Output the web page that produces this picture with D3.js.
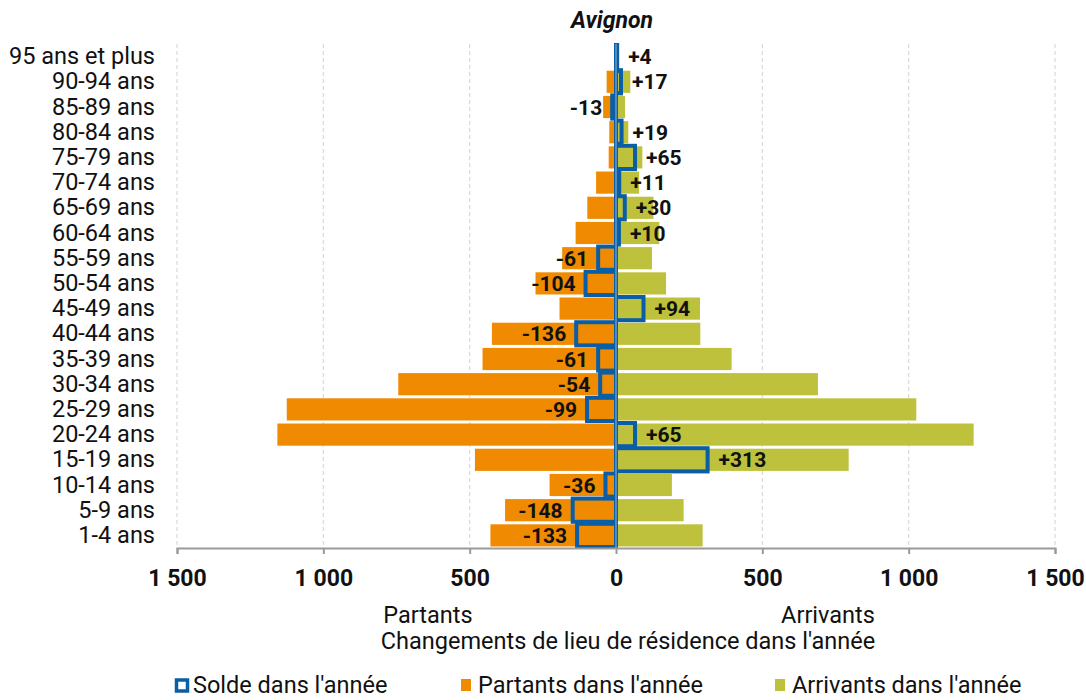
<!DOCTYPE html>
<html>
<head>
<meta charset="utf-8">
<script src="https://cdn.jsdelivr.net/npm/d3@7"></script>
<style>
  body { margin: 0; background: #fff; }
  svg text { font-family: Roboto, "Noto Sans", sans-serif; }
</style>
</head>
<body>
<div class="chart"></div>
<script>
// categories, from the youngest to the oldest
const ages = ['1-4 ans', '5-9 ans', '10-14 ans', '15-19 ans', '20-24 ans', '25-29 ans',
  '30-34 ans', '35-39 ans', '40-44 ans', '45-49 ans', '50-54 ans', '55-59 ans',
  '60-64 ans', '65-69 ans', '70-74 ans', '75-79 ans', '80-84 ans', '85-89 ans',
  '90-94 ans', '95 ans et plus'];
const partants = [429, 379, 227, 482, 1157, 1125, 744, 456, 424, 193, 275, 184,
  138, 98, 68, 25, 23, 44, 32, 5];
const arrivants = [296, 231, 191, 795, 1222, 1026, 690, 395, 288, 287, 171, 123,
  148, 128, 79, 90, 42, 31, 49, 9];
const solde = [-133, -148, -36, 313, 65, -99, -54, -61, -136, 94, -104, -61,
  10, 30, 11, 65, 19, -13, 17, 4];
const ticks = [-1500, -1000, -500, 0, 500, 1000, 1500];
const legendItems = ["Solde dans l'année", "Partants dans l'année", "Arrivants dans l'année"];

const W = 1086, H = 700;
const orange = '#f08a00', olive = '#bdc13b', blue = '#0a5ea6';

const svg = d3.select('.chart')
  .append('svg')
    .attr('width', W)
    .attr('height', H);

const x = d3.scaleLinear().domain([-1500, 1500]).range([177, 1055]);
const y = d3.scaleBand()
  .domain(ages.slice().reverse())
  .range([44, 548])
  .paddingInner(0.12)
  .paddingOuter(0.06);

const rows = ages.map((a, i) => ({ age: a, p: partants[i], a2: arrivants[i], s: solde[i] }));

// grid
svg.append('g')
  .selectAll('line')
  .data(ticks.filter(t => t !== 0))
  .enter()
  .append('line')
    .attr('x1', d => x(d)).attr('x2', d => x(d))
    .attr('y1', 44).attr('y2', 548)
    .attr('stroke', '#d9d9d9')
    .attr('stroke-width', 1.2)
    .attr('stroke-dasharray', '4,3');

// partants
svg.append('g')
  .selectAll('rect')
  .data(rows)
  .enter()
  .append('rect')
    .attr('x', d => x(-d.p))
    .attr('y', d => y(d.age))
    .attr('width', d => x(0) - x(-d.p))
    .attr('height', y.bandwidth())
    .attr('fill', orange);

// arrivants
svg.append('g')
  .selectAll('rect')
  .data(rows)
  .enter()
  .append('rect')
    .attr('x', x(0))
    .attr('y', d => y(d.age))
    .attr('width', d => x(d.a2) - x(0))
    .attr('height', y.bandwidth())
    .attr('fill', olive);

// solde
const step = y.step();
svg.append('g')
  .selectAll('rect')
  .data(rows)
  .enter()
  .append('rect')
    .attr('x', d => x(Math.min(0, d.s)))
    .attr('y', d => y(d.age) + y.bandwidth() / 2 - (step - 2) / 2)
    .attr('width', d => Math.abs(x(d.s) - x(0)))
    .attr('height', step - 2)
    .attr('fill', 'none')
    .attr('stroke', blue)
    .attr('stroke-width', 4);

// thin zero line
svg.append('line')
  .attr('x1', x(0)).attr('x2', x(0))
  .attr('y1', 44).attr('y2', 548)
  .attr('stroke', '#9fb6cc')
  .attr('stroke-width', 1);

// labels of solde
svg.append('g')
  .selectAll('text')
  .data(rows)
  .enter()
  .append('text')
    .attr('x', d => d.s >= 0 ? x(d.s) + 11 : x(d.s) - 10)
    .attr('y', d => y(d.age) + y.bandwidth() / 2)
    .attr('dy', '0.36em')
    .attr('text-anchor', d => d.s >= 0 ? 'start' : 'end')
    .style('font-size', '21px')
    .style('font-weight', 'bold')
    .attr('fill', '#111')
    .text(d => (d.s > 0 ? '+' : '') + d.s);

// bottom axis
const fr = d3.formatLocale({ decimal: ',', thousands: '\u00a0', grouping: [3], currency: ['', ' €'] });
const fmt = fr.format(',d');
const xAxis = svg.append('g')
  .attr('transform', 'translate(0,548)')
  .call(d3.axisBottom(x).tickValues(ticks).tickSize(6).tickPadding(16)
    .tickFormat(d => fmt(Math.abs(d))));
xAxis.select('.domain').attr('stroke', '#9a9a9a').attr('stroke-width', 2);
xAxis.selectAll('.tick line').attr('stroke', '#9a9a9a').attr('stroke-width', 2);
xAxis.selectAll('text')
  .style('font-size', '23px')
  .style('font-weight', 'bold')
  .attr('fill', '#111');

// left axis
const yAxis = svg.append('g')
  .attr('transform', 'translate(163,0)')
  .call(d3.axisLeft(y).tickSize(0).tickPadding(8));
yAxis.select('.domain').remove();
yAxis.selectAll('text')
  .style('font-size', '23.5px')
  .attr('fill', '#111');

// title
svg.append('text')
  .attr('x', x(0) - 4).attr('y', 28)
  .attr('text-anchor', 'middle')
  .style('font-size', '23px')
  .style('font-weight', 'bold')
  .style('font-style', 'italic')
  .attr('fill', '#111')
  .text('Avignon');

// axis titles
svg.append('text')
  .attr('x', 428).attr('y', 623)
  .attr('text-anchor', 'middle')
  .style('font-size', '23.5px')
  .attr('fill', '#111')
  .text('Partants');
svg.append('text')
  .attr('x', 828).attr('y', 623)
  .attr('text-anchor', 'middle')
  .style('font-size', '23.5px')
  .attr('fill', '#111')
  .text('Arrivants');
svg.append('text')
  .attr('x', 628).attr('y', 649)
  .attr('text-anchor', 'middle')
  .style('font-size', '23.5px')
  .attr('fill', '#111')
  .text("Changements de lieu de résidence dans l'année");

// legend
const legendX = [175, 461, 775];
const legend = svg.append('g')
  .selectAll('g')
  .data(legendItems)
  .enter()
  .append('g')
    .attr('transform', (d, i) => `translate(${legendX[i]},685)`);
legend.append('rect')
  .attr('x', (d, i) => i === 0 ? 1.5 : 0)
  .attr('y', (d, i) => i === 0 ? -5 : -6)
  .attr('width', (d, i) => i === 0 ? 11 : 10)
  .attr('height', (d, i) => i === 0 ? 11 : 12)
  .attr('fill', (d, i) => i === 0 ? '#fff' : (i === 1 ? orange : olive))
  .attr('stroke', (d, i) => i === 0 ? blue : 'none')
  .attr('stroke-width', 3.5);
legend.append('text')
  .attr('x', (d, i) => i === 0 ? 18 : 17)
  .attr('y', 0)
  .attr('dy', '0.36em')
  .style('font-size', '23.5px')
  .attr('fill', '#111')
  .text(d => d);
</script>
</body>
</html>
